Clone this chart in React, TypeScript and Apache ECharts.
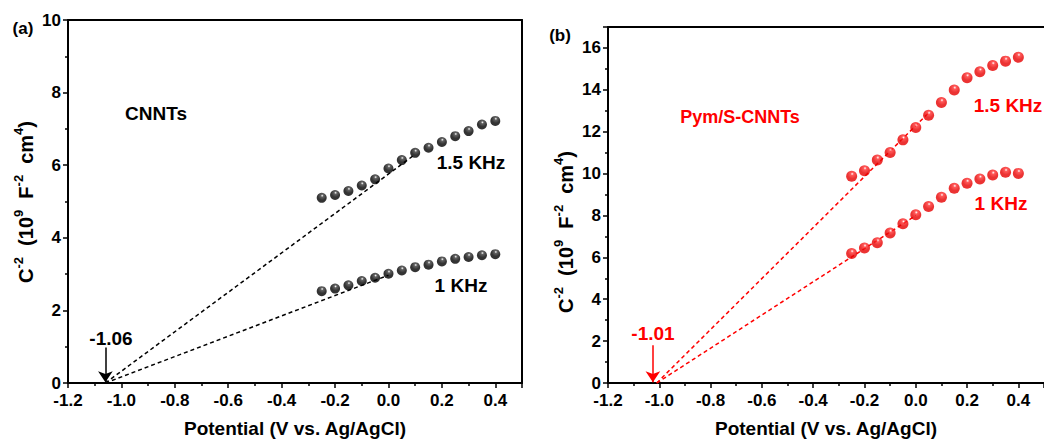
import React, { useEffect, useRef } from "react";
import * as echarts from "echarts";

// ---- data ----
const potentials = [-0.25, -0.2, -0.15, -0.1, -0.05, 0, 0.05, 0.1, 0.15, 0.2, 0.25, 0.3, 0.35, 0.4];
const cnnt15 = [5.1, 5.18, 5.29, 5.44, 5.61, 5.91, 6.14, 6.34, 6.48, 6.64, 6.8, 6.94, 7.12, 7.22];
const cnnt1 = [2.53, 2.6, 2.69, 2.81, 2.9, 3.01, 3.1, 3.19, 3.26, 3.35, 3.42, 3.47, 3.52, 3.55];
const pym15 = [9.87, 10.14, 10.65, 11.01, 11.61, 12.2, 12.79, 13.39, 13.99, 14.58, 14.86, 15.16, 15.37, 15.56];
const pym1 = [6.18, 6.45, 6.7, 7.16, 7.6, 8.03, 8.43, 8.87, 9.3, 9.54, 9.74, 9.93, 10.06, 10.01];

const cnntFit15: [number, number][] = [[-1.06, 0], [0.1, 6.3]];
const cnntFit1: [number, number][] = [[-1.06, 0], [0.0, 2.97]];
const pymFit15: [number, number][] = [[-1.01, 0], [0.05, 12.9]];
const pymFit1: [number, number][] = [[-1.01, 0], [0.0, 8.0]];

const arrowA: [number, number][] = [[-1.06, 0.98], [-1.06, 0.02]];
const arrowB: [number, number][] = [[-1.025, 1.8], [-1.025, 0.03]];

const xTicks = { min: -1.2, max: 0.5, interval: 0.2 };
const yTicksA = { min: 0, max: 10, interval: 2 };
const yTicksB = { min: 0, max: 17, interval: 2 };

const FONT = "'Liberation Sans', Arial, sans-serif";
const RED = "#ff0000";

const pairs = (xs: number[], ys: number[]) => xs.map((x, i) => [x, ys[i]]);

function sphere(base: string, mid: string) {
  return new echarts.graphic.RadialGradient(0.55, 0.28, 0.8, [
    { offset: 0, color: "#ffffff" },
    { offset: 0.18, color: mid },
    { offset: 0.55, color: base },
    { offset: 1, color: base },
  ]);
}

function xAxisBottom(grid: number) {
  return {
    type: "value",
    gridIndex: grid,
    position: "bottom",
    ...xTicks,
    name: "Potential (V vs. Ag/AgCl)",
    nameLocation: "middle",
    nameGap: 36,
    nameTextStyle: { fontFamily: FONT, fontWeight: "bold", fontSize: 19, color: "#000" },
    axisLine: { show: true, onZero: false, lineStyle: { color: "#000", width: 2 } },
    axisTick: { show: true, inside: false, length: 5, lineStyle: { color: "#000", width: 1.5 } },
    minorTick: { show: true, splitNumber: 2, length: 3, lineStyle: { color: "#000", width: 1.5 } },
    axisLabel: {
      fontFamily: FONT, fontWeight: "bold", fontSize: 17, color: "#000", margin: 9,
      showMaxLabel: false,
      formatter: (v: number) => v.toFixed(1),
    },
    splitLine: { show: false },
  };
}

function frameAxis(grid: number, pos: string, range: any) {
  return {
    type: "value",
    gridIndex: grid,
    position: pos,
    ...range,
    axisLine: { show: true, onZero: false, lineStyle: { color: "#000", width: 2 } },
    axisTick: { show: false },
    axisLabel: { show: false },
    splitLine: { show: false },
  };
}

function yAxisLeft(grid: number, range: any) {
  return {
    type: "value",
    gridIndex: grid,
    position: "left",
    ...range,
    axisLine: { show: true, onZero: false, lineStyle: { color: "#000", width: 2 } },
    axisTick: { show: true, inside: false, length: 5, lineStyle: { color: "#000", width: 1.5 } },
    minorTick: { show: true, splitNumber: 2, length: 3, lineStyle: { color: "#000", width: 1.5 } },
    axisLabel: {
      fontFamily: FONT, fontWeight: "bold", fontSize: 17, color: "#000", margin: 7,
      showMaxLabel: range.max % range.interval === 0,
    },
    splitLine: { show: false },
  };
}

function yName(x: number, y: number, color: string) {
  const b = { fontFamily: FONT, fontWeight: "bold", fontSize: 20, fill: color, color, lineHeight: 24, verticalAlign: "bottom" };
  const s = { fontFamily: FONT, fontWeight: "bold", fontSize: 13, fill: color, color, lineHeight: 14, verticalAlign: "top" };
  return {
    type: "text",
    x,
    y,
    rotation: Math.PI / 2,
    style: {
      text: "{b|C}{s|-2}{b|  (10}{s|9}{b|  F}{s|-2}{b|  cm}{s|4}{b|)}",
      rich: { b, s },
      align: "center",
      verticalAlign: "middle",
      fill: "#000",
    },
  };
}

function label(x: number, y: number, text: string, color: string, size = 18) {
  return {
    type: "text",
    x,
    y,
    style: {
      text,
      fill: color,
      font: `bold ${size}px ${FONT}`,
      align: "center",
      verticalAlign: "middle",
    },
  };
}

function scatter(name: string, xi: number, yi: number, ys: number[], color: any, size: number) {
  return {
    name,
    type: "scatter",
    xAxisIndex: xi,
    yAxisIndex: yi,
    data: pairs(potentials, ys),
    symbol: "circle",
    symbolSize: size,
    itemStyle: { color, borderWidth: 0 },
    z: 5,
  };
}

function fit(data: [number, number][], xi: number, yi: number, color: string) {
  return {
    type: "line",
    xAxisIndex: xi,
    yAxisIndex: yi,
    data,
    symbol: "none",
    lineStyle: { color, width: 1.5, type: [4, 3] },
    z: 3,
  };
}

function arrow(data: [number, number][], xi: number, yi: number, color: string) {
  return {
    type: "line",
    xAxisIndex: xi,
    yAxisIndex: yi,
    data: [],
    markLine: {
      silent: true,
      symbol: ["none", "arrow"],
      symbolSize: 11,
      label: { show: false },
      lineStyle: { color, width: 1.5, type: "solid" },
      data: [[{ coord: data[0] }, { coord: data[1] }]],
    },
  };
}

export default function App() {
  const ref = useRef<HTMLDivElement>(null);
  useEffect(() => {
    if (!ref.current) return;
    const chart = echarts.init(ref.current, undefined, { renderer: "svg" });
    chart.setOption({
      animation: false,
      backgroundColor: "#fff",
      textStyle: { fontFamily: FONT },
      grid: [
        { left: 68, top: 20, width: 454, height: 366 },
        { left: 608, top: 27, width: 444.5, height: 358 },
      ],
      xAxis: [
        xAxisBottom(0),
        frameAxis(0, "top", xTicks),
        xAxisBottom(1),
        frameAxis(1, "top", xTicks),
      ],
      yAxis: [
        yAxisLeft(0, yTicksA),
        frameAxis(0, "right", yTicksA),
        yAxisLeft(1, yTicksB),
      ],
      series: [
        fit(cnntFit15, 0, 0, "#000"),
        fit(cnntFit1, 0, 0, "#000"),
        scatter("CNNTs 1.5 KHz", 0, 0, cnnt15, sphere("#000000", "#3a3a3a"), 10),
        scatter("CNNTs 1 KHz", 0, 0, cnnt1, sphere("#000000", "#3a3a3a"), 10),
        arrow(arrowA, 0, 0, "#000"),
        fit(pymFit15, 2, 2, RED),
        fit(pymFit1, 2, 2, RED),
        scatter("Pym/S-CNNTs 1.5 KHz", 2, 2, pym15, sphere("#e60000", "#ff3030"), 11),
        scatter("Pym/S-CNNTs 1 KHz", 2, 2, pym1, sphere("#e60000", "#ff3030"), 11),
        arrow(arrowB, 2, 2, RED),
      ],
      graphic: [
        yName(24, 202, "#000"),
        yName(564, 232, "#000"),
        label(23, 28, "(a)", "#000", 17),
        label(560, 35, "(b)", "#000", 17),
        label(156, 113, "CNNTs", "#000", 19),
        label(471, 162, "1.5 KHz", "#000", 19),
        label(461, 285, "1 KHz", "#000", 19),
        label(111, 338, "-1.06", "#000", 19),
        label(740, 117, "Pym/S-CNNTs", RED, 18),
        label(1008, 105, "1.5 KHz", RED, 19),
        label(1001, 203, "1 KHz", RED, 19),
        label(653, 333, "-1.01", RED, 19),
      ],
    });
    return () => chart.dispose();
  }, []);
  return (
    <div
      ref={ref}
      style={{ position: "fixed", left: 0, top: 0, width: 1044, height: 443, background: "#fff" }}
    />
  );
}
